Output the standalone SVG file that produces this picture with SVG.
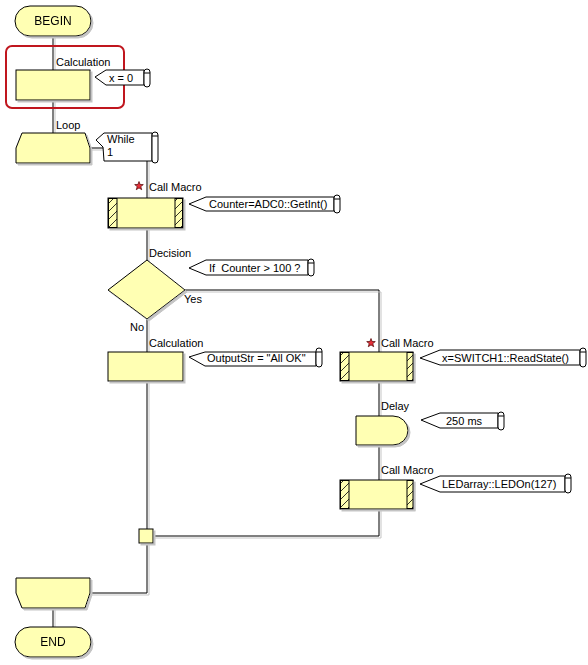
<svg xmlns="http://www.w3.org/2000/svg" width="588" height="665" viewBox="0 0 588 665">
<style>
text{font-family:"Liberation Sans",Arial,sans-serif;font-size:11px;fill:#000;white-space:pre}
.n{fill:#FFFFB3;stroke:#000;stroke-width:1}
.c{fill:#fff;stroke:#000;stroke-width:1}
.w{stroke:#000;stroke-width:1;fill:none}
.t{font-size:12px;text-anchor:middle}
</style>
<defs>
<filter id="sh" x="-10%" y="-10%" width="130%" height="130%">
<feFlood flood-color="#c4c4c4"/>
<feComposite in2="SourceAlpha" operator="in"/>
<feOffset dx="2" dy="2" result="s"/>
<feMerge><feMergeNode in="s"/><feMergeNode in="SourceGraphic"/></feMerge>
</filter>
<pattern id="hatch" patternUnits="userSpaceOnUse" width="8" height="8">
<rect width="8" height="8" fill="#FFFFB3"/>
<path d="M0,8 L8,0 M-2,2 L2,-2 M6,10 L10,6" stroke="#000" stroke-width="0.8"/>
</pattern>
<symbol id="star" viewBox="-5 -5 10 10" overflow="visible">
<polygon points="0,-4.5 1.1,-1.5 4.3,-1.4 1.8,0.6 2.7,3.7 0,1.9 -2.7,3.7 -1.8,0.6 -4.3,-1.4 -1.1,-1.5" fill="#e8303a" stroke="#4a0000" stroke-width="0.7"/>
</symbol>
</defs>
<rect width="588" height="665" fill="#fff"/>

<g id="connectors" filter="url(#sh)" class="w">
<path d="M53,36 V70 M53,100 V133"/>
<path d="M90,148 H147 V198"/>
<path d="M147,228 V260"/>
<path d="M147,319 V352"/>
<path d="M185,290 H379 V352"/>
<path d="M147,381 V529"/>
<path d="M379,381 V416 M379,445 V480 M379,509 V536 H153"/>
<path d="M147,543 V593 H90"/>
<path d="M53,608 V627"/>
</g>

<g id="begin" filter="url(#sh)">
<rect class="n" x="15" y="6" width="76" height="30" rx="15" stroke-width="1.3"/>
<text class="t" x="53" y="25">BEGIN</text>
</g>

<rect id="highlight" x="6" y="46" width="118" height="62" rx="6" fill="none" stroke="#C0161E" stroke-width="2"/>

<g id="calc1">
<text x="56" y="66">Calculation</text>
<rect class="n" x="16" y="70" width="74" height="30" filter="url(#sh)"/>
</g>
<g id="comment-x0">
<polygon class="c" points="95,77 106,70 144,70 144,85 106,85"/>
<rect class="c" x="144" y="69" width="6" height="18" rx="3"/>
<path class="w" d="M144,73 H150"/>
<text x="109" y="82">x = 0</text>
</g>

<g id="loop-start">
<text x="56" y="129">Loop</text>
<polygon class="n" points="22,133 85,133 90,148 90,163 16,163 16,148" filter="url(#sh)"/>
</g>
<g id="comment-while">
<polygon class="c" points="104,133 152,133 152,161 104,161 103,147 96,140"/>
<rect class="c" x="152" y="132" width="6" height="31" rx="3"/>
<path class="w" d="M152,136 H158"/>
<text x="107" y="143">While</text>
<text x="107" y="156">1</text>
</g>

<g id="callmacro1">
<use href="#star" x="134" y="181" width="10" height="10"/>
<text x="149" y="191">Call Macro</text>
<g filter="url(#sh)">
<rect class="n" x="108" y="198" width="75" height="30"/>
<rect x="108.5" y="198.5" width="8.5" height="29" fill="url(#hatch)" stroke="#000"/>
<rect x="175" y="198.5" width="7.5" height="29" fill="url(#hatch)" stroke="#000"/>
</g>
</g>
<g id="comment-counter">
<polygon class="c" points="189,204 206,197 334,197 334,211 206,211"/>
<rect class="c" x="334" y="195" width="6" height="18" rx="3"/>
<path class="w" d="M334,199 H340"/>
<text x="209" y="208">Counter=ADC0::GetInt()</text>
</g>

<g id="decision">
<text x="149" y="257">Decision</text>
<polygon class="n" points="147,260 185,290 147,319 108,290" filter="url(#sh)"/>
<text x="184" y="303">Yes</text>
<text x="130" y="331">No</text>
</g>
<g id="comment-if">
<polygon class="c" points="189,268 206,260 308,260 308,275 206,275"/>
<rect class="c" x="308" y="259" width="6" height="17" rx="3"/>
<path class="w" d="M308,263 H314"/>
<text x="209" y="272">If  Counter &gt; 100 ?</text>
</g>

<g id="calc2">
<text x="149" y="347">Calculation</text>
<rect class="n" x="108" y="352" width="75" height="29" filter="url(#sh)"/>
</g>
<g id="comment-output">
<polygon class="c" points="189,357 205,352 316,352 316,366 205,366"/>
<rect class="c" x="316" y="348" width="6" height="19" rx="3"/>
<path class="w" d="M316,352 H322"/>
<text x="207" y="362">OutputStr = "All OK"</text>
</g>

<g id="callmacro2">
<use href="#star" x="366" y="338" width="10" height="10"/>
<text x="381" y="347">Call Macro</text>
<g filter="url(#sh)">
<rect class="n" x="340" y="352" width="73" height="29"/>
<rect x="340.5" y="352.5" width="8.5" height="28" fill="url(#hatch)" stroke="#000"/>
<rect x="407" y="352.5" width="6" height="28" fill="url(#hatch)" stroke="#000"/>
</g>
</g>
<g id="comment-switch">
<polygon class="c" points="420,358 440,350 580,350 580,365 440,365"/>
<rect class="c" x="580" y="348" width="6" height="19" rx="3"/>
<path class="w" d="M580,352 H586"/>
<text x="442" y="362">x=SWITCH1::ReadState()</text>
</g>

<g id="delay">
<text x="381" y="410">Delay</text>
<path class="n" d="M356,416 H393 A15,14.5 0 0 1 393,445 H356 Z" filter="url(#sh)"/>
</g>
<g id="comment-delay">
<polygon class="c" points="421,420 440,413 498,413 498,428 440,428"/>
<rect class="c" x="498" y="412" width="6" height="18" rx="3"/>
<path class="w" d="M498,416 H504"/>
<text x="446" y="425">250 ms</text>
</g>

<g id="callmacro3">
<text x="381" y="474">Call Macro</text>
<g filter="url(#sh)">
<rect class="n" x="340" y="480" width="73" height="29"/>
<rect x="340.5" y="480.5" width="8.5" height="28" fill="url(#hatch)" stroke="#000"/>
<rect x="407" y="480.5" width="6" height="28" fill="url(#hatch)" stroke="#000"/>
</g>
</g>
<g id="comment-led">
<polygon class="c" points="420,484 440,476 565,476 565,492 440,492"/>
<rect class="c" x="565" y="474" width="6" height="19" rx="3"/>
<path class="w" d="M565,478 H571"/>
<text x="442" y="488">LEDarray::LEDOn(127)</text>
</g>

<g id="junction">
<rect class="n" x="139" y="529" width="14" height="14" filter="url(#sh)"/>
</g>

<g id="loop-end">
<polygon class="n" points="16,578 90,578 90,593 85,608 22,608 16,593" filter="url(#sh)"/>
</g>

<g id="end" filter="url(#sh)">
<rect class="n" x="15" y="627" width="76" height="30" rx="15" stroke-width="1.3"/>
<text class="t" x="53" y="646">END</text>
</g>
</svg>
